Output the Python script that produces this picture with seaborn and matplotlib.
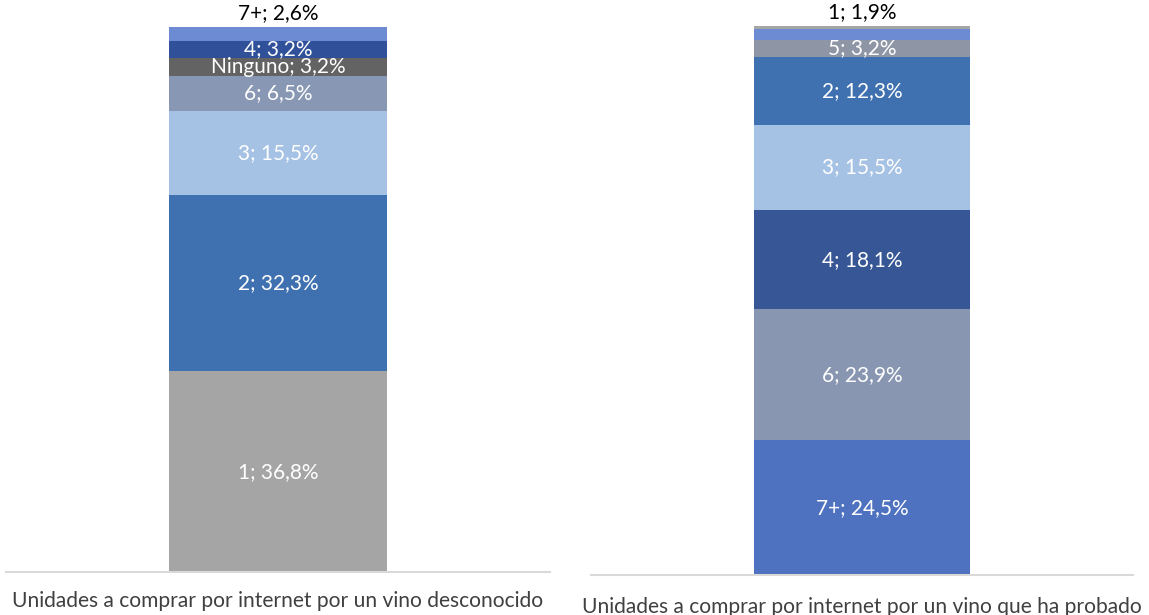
import matplotlib
matplotlib.use("Agg")
import matplotlib.pyplot as plt
import seaborn as sns
import numpy as np
import pandas as pd

sns.set_theme(style="white")
plt.rcParams["font.family"] = ["Lato", "DejaVu Sans"]

# Left chart: units to buy online for an unknown wine (bottom -> top)
left_title = "Unidades a comprar por internet por un vino desconocido"
left_cats = ["1", "2", "3", "6", "Ninguno", "4", "7+"]
left_vals = [36.8, 32.3, 15.5, 6.5, 3.2, 3.2, 2.6]
left_colors = ["#A5A5A5", "#3F70AF", "#A5C1E3", "#8897B3", "#636363", "#30519A", "#6C8BD3"]
left_labels = ["1; 36,8%", "2; 32,3%", "3; 15,5%", "6; 6,5%", "Ninguno; 3,2%", "4; 3,2%", "7+; 2,6%"]

# Right chart: units to buy online for a wine already tasted (bottom -> top)
right_title = "Unidades a comprar por internet por un vino que ha probado"
right_cats = ["7+", "6", "4", "3", "2", "5", "1", "Ninguno"]
right_vals = [24.5, 23.9, 18.1, 15.5, 12.3, 3.2, 1.9, 0.6]
right_colors = ["#4E71C0", "#8896B2", "#375695", "#A5C1E3", "#3F70AF", "#8E96A6", "#6C8BD3", "#A5A5A5"]
right_labels = ["7+; 24,5%", "6; 23,9%", "4; 18,1%", "3; 15,5%", "2; 12,3%", "5; 3,2%", "1; 1,9%", ""]

fig = plt.figure(figsize=(11.49, 6.15), dpi=100)
W, H = 1149, 615

def draw(rect, title, cats, vals, colors, labels, pad):
    ax = fig.add_axes(rect)
    cum = np.cumsum(vals)
    # draw cumulative bars from the tallest to the shortest so they stack
    for i in range(len(vals) - 1, -1, -1):
        df = pd.DataFrame({"x": [title], "y": [cum[i]]})
        sns.barplot(data=df, x="x", y="y", color=colors[i], saturation=1,
                    width=0.4, ax=ax, linewidth=0)
    ax.set_ylim(0, 100)
    ax.set_xlim(-0.5, 0.5)
    ax.set_ylabel("")
    ax.set_xlabel("")
    ax.set_yticks([])
    for s in ["top", "left", "right"]:
        ax.spines[s].set_visible(False)
    ax.spines["bottom"].set_color("#D9D9D9")
    ax.spines["bottom"].set_linewidth(1.5)
    ax.tick_params(axis="x", length=0, pad=pad, labelsize=15.1, labelcolor="#404040")
    starts = cum - np.array(vals)
    n = len(vals)
    last_labeled = max(i for i in range(n) if labels[i])
    for i in range(n):
        if not labels[i]:
            continue
        if i == last_labeled:
            ax.annotate(labels[i], xy=(0, 100), xytext=(0, 10), textcoords="offset points",
                        ha="center", va="center", fontsize=15, color="black",
                        annotation_clip=False)
        else:
            ax.text(0, starts[i] + vals[i] / 2, labels[i], ha="center", va="center",
                    fontsize=15, color="white", clip_on=False)
    return ax

draw([6 / W, (H - 572) / H, 544 / W, 545 / H], left_title, left_cats, left_vals, left_colors, left_labels, 14)
draw([591 / W, (H - 575) / H, 542 / W, 549 / H], right_title, right_cats, right_vals, right_colors, right_labels, 16)

fig.savefig("out.png", dpi=100)
